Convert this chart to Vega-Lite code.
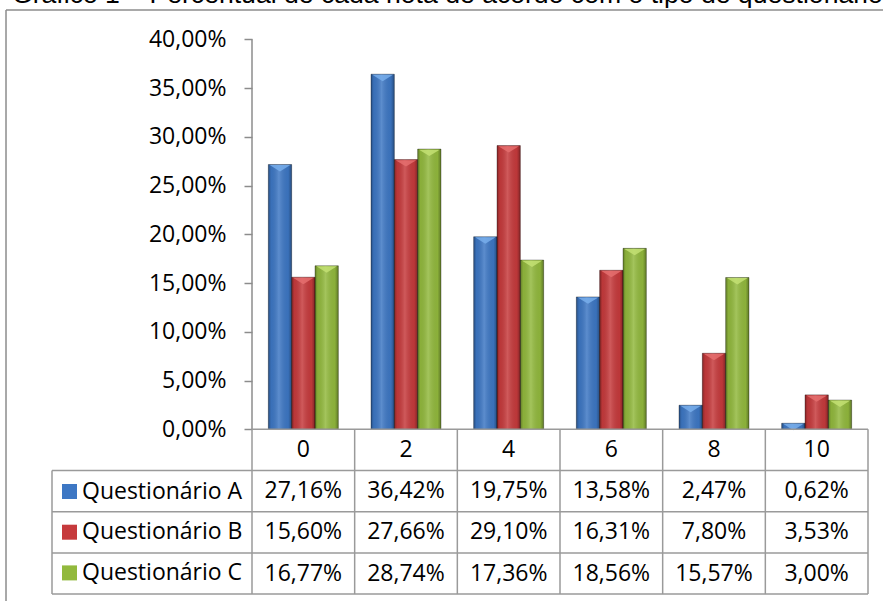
{
  "$schema": "https://vega.github.io/schema/vega-lite/v6.json",
  "width": 877,
  "height": 591,
  "autosize": {"type": "none"},
  "padding": {"left": 6, "top": 10, "right": 0, "bottom": 0},
  "background": "white",
  "config": {
    "view": {"stroke": null},
    "locale": {"number": {"decimal": ",", "thousands": ".", "grouping": [3], "currency": ["", ""]}},
    "font": "Open Sans"
  },
  "title": {
    "text": "Gráfico 1 – Percentual de cada nota de acordo com o tipo de questionário",
    "anchor": "start",
    "frame": "group",
    "font": "Liberation Sans",
    "fontSize": 26.6,
    "fontWeight": "normal",
    "color": "#000000",
    "baseline": "alphabetic",
    "offset": 0,
    "dx": 6,
    "dy": 20,
    "limit": 2000
  },
  "datasets": {
    "notas": [
      {"nota": "0", "serie": "Questionário A", "valor": 0.2716},
      {"nota": "2", "serie": "Questionário A", "valor": 0.3642},
      {"nota": "4", "serie": "Questionário A", "valor": 0.1975},
      {"nota": "6", "serie": "Questionário A", "valor": 0.1358},
      {"nota": "8", "serie": "Questionário A", "valor": 0.0247},
      {"nota": "10", "serie": "Questionário A", "valor": 0.0062},
      {"nota": "0", "serie": "Questionário B", "valor": 0.1560},
      {"nota": "2", "serie": "Questionário B", "valor": 0.2766},
      {"nota": "4", "serie": "Questionário B", "valor": 0.2910},
      {"nota": "6", "serie": "Questionário B", "valor": 0.1631},
      {"nota": "8", "serie": "Questionário B", "valor": 0.0780},
      {"nota": "10", "serie": "Questionário B", "valor": 0.0353},
      {"nota": "0", "serie": "Questionário C", "valor": 0.1677},
      {"nota": "2", "serie": "Questionário C", "valor": 0.2874},
      {"nota": "4", "serie": "Questionário C", "valor": 0.1736},
      {"nota": "6", "serie": "Questionário C", "valor": 0.1856},
      {"nota": "8", "serie": "Questionário C", "valor": 0.1557},
      {"nota": "10", "serie": "Questionário C", "valor": 0.0300}
    ],
    "cats": [{"nota": "0"}, {"nota": "2"}, {"nota": "4"}, {"nota": "6"}, {"nota": "8"}, {"nota": "10"}],
    "linhas": [{"linha": "Questionário A"}, {"linha": "Questionário B"}, {"linha": "Questionário C"}],
    "um": [{"id": 1}]
  },
  "resolve": {"scale": {"y": "independent"}},
  "layer": [
    {
      "data": {"name": "notas"},
      "mark": {"type": "bar"},
      "encoding": {
        "x": {
          "field": "nota", "type": "nominal",
          "scale": {"domain": ["0", "2", "4", "6", "8", "10"], "range": [246, 862], "paddingInner": 0, "paddingOuter": 0},
          "axis": null
        },
        "xOffset": {"field": "serie", "type": "nominal", "scale": {"domain": ["Questionário A", "Questionário B", "Questionário C"], "paddingInner": 0, "paddingOuter": 0.7}},
        "y": {
          "field": "valor", "type": "quantitative",
          "scale": {"domain": [-0.1761, 0.43005], "nice": false, "zero": false},
          "axis": {"orient": "left", "offset": -246, "values": [0, 0.05, 0.1, 0.15, 0.2, 0.25, 0.3, 0.35, 0.4], "format": ".2%", "domain": false, "ticks": true, "tickSize": 8, "tickColor": "#8c8c8c", "tickWidth": 1.5, "labelFont": "Open Sans", "labelFontSize": 23, "labelColor": "#000000", "labelPadding": 18, "grid": false, "title": null}
        },
        "color": {
          "field": "serie", "type": "nominal",
          "scale": {"domain": ["Questionário A", "Questionário B", "Questionário C"], "range": ["#3D77C4", "#C63A3C", "#92B93D"]},
          "legend": {"title": null, "orient": "none", "legendX": 52, "legendY": 470, "direction": "vertical", "symbolType": "square", "symbolSize": 225, "symbolStrokeWidth": 0, "labelFont": "Open Sans", "labelFontSize": 23, "labelColor": "#000000", "labelOffset": 1, "labelLimit": 400, "rowPadding": 16.7, "padding": 0}
        }
      }
    },
    {
      "data": {"name": "notas"},
      "mark": {
        "type": "bar",
        "fill": {"gradient": "linear", "x1": 0, "x2": 1, "y1": 0, "y2": 0, "stops": [
          {"offset": 0, "color": "rgba(0,0,0,0.32)"},
          {"offset": 0.12, "color": "rgba(0,0,0,0.06)"},
          {"offset": 0.45, "color": "rgba(255,255,255,0.16)"},
          {"offset": 0.85, "color": "rgba(0,0,0,0.05)"},
          {"offset": 1, "color": "rgba(0,0,0,0.34)"}
        ]},
        "stroke": "rgba(0,0,0,0.4)",
        "strokeWidth": 0.8
      },
      "encoding": {
        "x": {"field": "nota", "type": "nominal", "scale": {"domain": ["0", "2", "4", "6", "8", "10"], "range": [246, 862], "paddingInner": 0, "paddingOuter": 0}, "axis": null},
        "xOffset": {"field": "serie", "type": "nominal", "scale": {"domain": ["Questionário A", "Questionário B", "Questionário C"], "paddingInner": 0, "paddingOuter": 0.7}},
        "y": {"field": "valor", "type": "quantitative", "scale": {"domain": [-0.1761, 0.43005], "nice": false, "zero": false}, "axis": null}
      }
    },
    {
      "data": {"name": "notas"},
      "mark": {"type": "point", "shape": "M-0.92,0.05L0.92,0.05L0,0.62Z", "size": 500, "filled": true, "opacity": 0.85, "strokeWidth": 0},
      "encoding": {
        "x": {"field": "nota", "type": "nominal", "scale": {"domain": ["0", "2", "4", "6", "8", "10"], "range": [246, 862], "paddingInner": 0, "paddingOuter": 0}, "axis": null},
        "xOffset": {"field": "serie", "type": "nominal", "scale": {"domain": ["Questionário A", "Questionário B", "Questionário C"], "paddingInner": 0, "paddingOuter": 0.7}},
        "y": {"field": "valor", "type": "quantitative", "scale": {"domain": [-0.1761, 0.43005], "nice": false, "zero": false}, "axis": null},
        "fill": {"field": "serie", "type": "nominal", "scale": {"domain": ["Questionário A", "Questionário B", "Questionário C"], "range": ["#78AEEB", "#E56E6E", "#C3E173"]}, "legend": null}
      }
    },
    {
      "data": {"name": "um"},
      "mark": {"type": "rule", "color": "#8c8c8c", "strokeWidth": 1.5},
      "encoding": {
        "x": {"datum": "0", "type": "nominal", "bandPosition": 0, "scale": {"domain": ["0", "2", "4", "6", "8", "10"], "range": [246, 862], "paddingInner": 0, "paddingOuter": 0}, "axis": null},
        "y": {"datum": 0.4, "type": "quantitative", "scale": {"domain": [-0.1761, 0.43005], "nice": false, "zero": false}, "axis": null},
        "y2": {"datum": 0}
      }
    },
    {
      "data": {"name": "um"},
      "mark": {"type": "rule", "color": "#8c8c8c", "strokeWidth": 1.5},
      "encoding": {
        "x": {"datum": "0", "type": "nominal", "bandPosition": -2.396, "scale": {"domain": ["0", "2", "4", "6", "8", "10"], "range": [246, 862], "paddingInner": 0, "paddingOuter": 0}, "axis": null},
        "y": {"datum": 0.43005, "type": "quantitative", "scale": {"domain": [-0.1761, 0.43005], "nice": false, "zero": false}, "axis": null},
        "y2": {"datum": -0.1761}
      }
    },
    {
      "data": {"name": "um"},
      "mark": {"type": "rule", "color": "#8c8c8c", "strokeWidth": 1.5},
      "encoding": {
        "x": {"datum": "0", "type": "nominal", "bandPosition": -2.396, "scale": {"domain": ["0", "2", "4", "6", "8", "10"], "range": [246, 862], "paddingInner": 0, "paddingOuter": 0}, "axis": null},
        "x2": {"datum": "10", "bandPosition": 1.5},
        "y": {"datum": 0.43005, "type": "quantitative", "scale": {"domain": [-0.1761, 0.43005], "nice": false, "zero": false}, "axis": null}
      }
    },
    {
      "data": {"name": "notas"},
      "mark": {"type": "text", "font": "Open Sans", "fontSize": 23, "color": "#000000"},
      "encoding": {
        "x": {"field": "nota", "type": "nominal", "scale": {"domain": ["0", "2", "4", "6", "8", "10"], "range": [246, 862], "paddingInner": 0, "paddingOuter": 0}, "axis": null},
        "y": {
          "field": "serie", "type": "nominal",
          "scale": {"type": "band", "domain": ["Nota", "Questionário A", "Questionário B", "Questionário C"], "range": [419.3, 584.1], "paddingInner": 0, "paddingOuter": 0},
          "axis": null
        },
        "text": {"field": "valor", "type": "quantitative", "format": ".2%"}
      }
    },
    {
      "data": {"name": "cats"},
      "mark": {"type": "text", "font": "Open Sans", "fontSize": 23, "color": "#000000"},
      "encoding": {
        "x": {"field": "nota", "type": "nominal", "scale": {"domain": ["0", "2", "4", "6", "8", "10"], "range": [246, 862], "paddingInner": 0, "paddingOuter": 0}, "axis": null},
        "y": {"datum": "Nota", "type": "nominal", "scale": {"type": "band", "domain": ["Nota", "Questionário A", "Questionário B", "Questionário C"], "range": [419.3, 584.1], "paddingInner": 0, "paddingOuter": 0}, "axis": null},
        "text": {"field": "nota", "type": "nominal"}
      }
    },
    {
      "data": {"name": "cats"},
      "mark": {"type": "rule", "color": "#9a9a9a", "strokeWidth": 1.5},
      "encoding": {
        "x": {"field": "nota", "type": "nominal", "bandPosition": 0, "scale": {"domain": ["0", "2", "4", "6", "8", "10"], "range": [246, 862], "paddingInner": 0, "paddingOuter": 0}, "axis": null},
        "y": {"datum": "Nota", "type": "nominal", "bandPosition": 0, "scale": {"type": "band", "domain": ["Nota", "Questionário A", "Questionário B", "Questionário C"], "range": [419.3, 584.1], "paddingInner": 0, "paddingOuter": 0}, "axis": null},
        "y2": {"datum": "Questionário C", "bandPosition": 1}
      }
    },
    {
      "data": {"name": "um"},
      "mark": {"type": "rule", "color": "#9a9a9a", "strokeWidth": 1.5},
      "encoding": {
        "x": {"datum": "10", "type": "nominal", "bandPosition": 1, "scale": {"domain": ["0", "2", "4", "6", "8", "10"], "range": [246, 862], "paddingInner": 0, "paddingOuter": 0}, "axis": null},
        "y": {"datum": "Nota", "type": "nominal", "bandPosition": 0, "scale": {"type": "band", "domain": ["Nota", "Questionário A", "Questionário B", "Questionário C"], "range": [419.3, 584.1], "paddingInner": 0, "paddingOuter": 0}, "axis": null},
        "y2": {"datum": "Questionário C", "bandPosition": 1}
      }
    },
    {
      "data": {"name": "um"},
      "mark": {"type": "rule", "color": "#9a9a9a", "strokeWidth": 1.5},
      "encoding": {
        "x": {"datum": "0", "type": "nominal", "bandPosition": 0, "scale": {"domain": ["0", "2", "4", "6", "8", "10"], "range": [246, 862], "paddingInner": 0, "paddingOuter": 0}, "axis": null},
        "x2": {"datum": "10", "bandPosition": 1},
        "y": {"datum": "Nota", "type": "nominal", "bandPosition": 0, "scale": {"type": "band", "domain": ["Nota", "Questionário A", "Questionário B", "Questionário C"], "range": [419.3, 584.1], "paddingInner": 0, "paddingOuter": 0}, "axis": null}
      }
    },
    {
      "data": {"name": "linhas"},
      "mark": {"type": "rule", "color": "#9a9a9a", "strokeWidth": 1.5},
      "encoding": {
        "x": {"datum": "0", "type": "nominal", "bandPosition": -1.948, "scale": {"domain": ["0", "2", "4", "6", "8", "10"], "range": [246, 862], "paddingInner": 0, "paddingOuter": 0}, "axis": null},
        "x2": {"datum": "10", "bandPosition": 1},
        "y": {"field": "linha", "type": "nominal", "bandPosition": 0, "scale": {"type": "band", "domain": ["Nota", "Questionário A", "Questionário B", "Questionário C"], "range": [419.3, 584.1], "paddingInner": 0, "paddingOuter": 0}, "axis": null}
      }
    },
    {
      "data": {"name": "um"},
      "mark": {"type": "rule", "color": "#9a9a9a", "strokeWidth": 1.5},
      "encoding": {
        "x": {"datum": "0", "type": "nominal", "bandPosition": -1.948, "scale": {"domain": ["0", "2", "4", "6", "8", "10"], "range": [246, 862], "paddingInner": 0, "paddingOuter": 0}, "axis": null},
        "x2": {"datum": "10", "bandPosition": 1},
        "y": {"datum": "Questionário C", "type": "nominal", "bandPosition": 1, "scale": {"type": "band", "domain": ["Nota", "Questionário A", "Questionário B", "Questionário C"], "range": [419.3, 584.1], "paddingInner": 0, "paddingOuter": 0}, "axis": null}
      }
    },
    {
      "data": {"name": "um"},
      "mark": {"type": "rule", "color": "#9a9a9a", "strokeWidth": 1.5},
      "encoding": {
        "x": {"datum": "0", "type": "nominal", "bandPosition": -1.948, "scale": {"domain": ["0", "2", "4", "6", "8", "10"], "range": [246, 862], "paddingInner": 0, "paddingOuter": 0}, "axis": null},
        "y": {"datum": "Questionário A", "type": "nominal", "bandPosition": 0, "scale": {"type": "band", "domain": ["Nota", "Questionário A", "Questionário B", "Questionário C"], "range": [419.3, 584.1], "paddingInner": 0, "paddingOuter": 0}, "axis": null},
        "y2": {"datum": "Questionário C", "bandPosition": 1}
      }
    }
  ]
}
